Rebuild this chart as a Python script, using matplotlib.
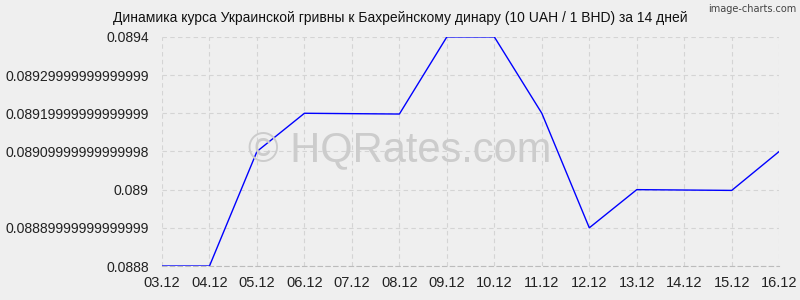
import matplotlib
matplotlib.use("Agg")
import matplotlib.pyplot as plt

plt.rcParams['font.family'] = ['Liberation Sans', 'DejaVu Sans']

dates = ["03.12", "04.12", "05.12", "06.12", "07.12", "08.12", "09.12",
         "10.12", "11.12", "12.12", "13.12", "14.12", "15.12", "16.12"]
rates = [0.0888, 0.0888, 0.0891, 0.0892, 0.089199, 0.089198, 0.0894,
         0.0894, 0.0892, 0.0889, 0.0890, 0.088999, 0.088998, 0.0891]
ytick_vals = [0.0888, 0.0889, 0.0890, 0.0891, 0.0892, 0.0893, 0.0894]
ytick_labels = ["0.0888", "0.08889999999999999", "0.089", "0.08909999999999998",
                "0.08919999999999999", "0.08929999999999999", "0.0894"]

bg = "#efefef"
fig = plt.figure(figsize=(8, 3), dpi=100, facecolor=bg)
ax = fig.add_axes([0.2025, 0.1133, 0.7715, 0.7637])
ax.set_facecolor(bg)

x = list(range(len(dates)))
ax.plot(x, rates, color="#0000ff", lw=1)

ax.set_xlim(0, len(dates) - 1)
ax.set_ylim(ytick_vals[0], ytick_vals[-1])
ax.set_xticks(x)
ax.set_xticklabels(dates)
ax.set_yticks(ytick_vals)
ax.set_yticklabels(ytick_labels)
ax.tick_params(length=0, labelsize=10.5, colors="#222222")
ax.tick_params(axis="y", pad=9.5, labelsize=10.1)
ax.tick_params(axis="x", pad=7)

ax.grid(True, color="#d4d4d4", ls=(0, (4, 3)), lw=0.8)
for s in ["top", "right", "left"]:
    ax.spines[s].set_visible(False)
ax.spines["bottom"].set_color("#bbbbbb")
ax.spines["bottom"].set_linestyle((0, (4, 3)))
ax.spines["bottom"].set_linewidth(0.8)

fig.text(0.5, 0.94, "Динамика курса Украинской гривны к Бахрейнскому динару (10 UAH / 1 BHD) за 14 дней",
         ha="center", va="center", fontsize=10, color="#111111")
fig.text(0.995, 0.985, "image-charts.com", ha="right", va="top", fontsize=7,
         color="#444444", family=["DejaVu Sans Condensed", "DejaVu Sans"])
fig.text(0.5, 0.5, "© HQRates.com", ha="center", va="center", fontsize=30,
         color="#cccccc", zorder=0)

fig.savefig("out.png", dpi=100, facecolor=bg)
